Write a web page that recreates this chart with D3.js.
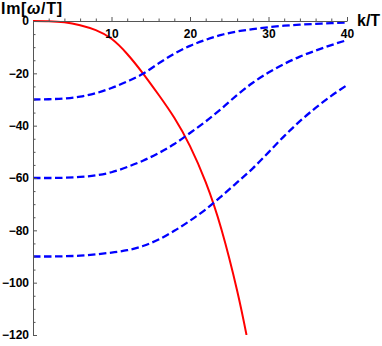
<!DOCTYPE html>
<html>
<head>
<meta charset="utf-8">
<script src="https://cdn.jsdelivr.net/npm/d3@7"></script>
<style>
  html, body { margin: 0; padding: 0; background: #fff; }
  svg { display: block; }
  text { font-family: "Liberation Sans", Arial, sans-serif; font-weight: bold; }
</style>
</head>
<body>
<svg id="chart" width="382" height="346"></svg>
<script>
// ---- data ----
const kRed   = [0, 2, 4, 6, 8, 10, 12, 14, 16, 18, 20, 22, 24, 26, 27.2];
const imRed  = [0, -0.1, -0.5, -1.6, -3.5, -6.8, -12.6, -20.0, -28.2, -37.0, -47.8, -61.6, -79.6, -103, -120];

const kBlue  = [0, 2, 4, 6, 8, 10, 12, 14, 16, 18, 20, 22, 24, 26, 28, 30, 32, 34, 36, 38, 40];
const imBlue1 = [-30, -29.9, -29.6, -28.9, -27.6, -25.6, -23.1, -20.2, -16.2, -12.5, -9.5, -7.2, -5.3, -4.0, -3.1, -2.4, -1.8, -1.4, -1.1, -0.8, -0.6];
const imBlue2 = [-60, -60, -59.9, -59.6, -59.0, -57.8, -55.8, -53.4, -50.5, -47, -42.8, -38.4, -33.5, -28.3, -23.6, -19.7, -16.4, -13.6, -11.3, -9.2, -7.3];
const imBlue3 = [-90, -90, -89.9, -89.7, -89.2, -88.5, -87.6, -86, -83.5, -80.2, -76.3, -72, -67, -61.7, -56.3, -50.2, -44, -38.3, -33.2, -28.6, -24.5];

const xMajor = [10, 20, 30, 40];
const xMinor = [2, 4, 6, 8, 12, 14, 16, 18, 22, 24, 26, 28, 32, 34, 36, 38];
const yMajor = [0, -20, -40, -60, -80, -100, -120];
const yMinor = [-5, -10, -15, -25, -30, -35, -45, -50, -55, -65, -70, -75, -85, -90, -95, -105, -110, -115];

// ---- layout ----
const svg = d3.select("#chart");
const x = d3.scaleLinear().domain([0, 40]).range([33, 347]);
const y = d3.scaleLinear().domain([0, -120]).range([21, 335]);
const axisColor = "#555";

svg.append("defs").append("clipPath").attr("id", "clip")
  .append("rect").attr("x", x(0)).attr("y", y(0) - 3)
  .attr("width", x(40) - x(0) + 3).attr("height", y(-120) - y(0) + 3);

const lineRed = d3.line().x(d => x(d[0])).y(d => y(d[1])).curve(d3.curveNatural);
const lineBlue = d3.line().x(d => x(d[0])).y(d => y(d[1])).curve(d3.curveMonotoneX);
const plot = svg.append("g").attr("clip-path", "url(#clip)");

plot.append("path")
  .attr("d", lineRed(d3.zip(kRed, imRed)))
  .attr("fill", "none").attr("stroke", "#ff0000").attr("stroke-width", 2);

[imBlue1, imBlue2, imBlue3].forEach(s => {
  plot.append("path")
    .attr("d", lineBlue(d3.zip(kBlue, s)))
    .attr("fill", "none").attr("stroke", "#0000ff")
    .attr("stroke-width", 2.3).attr("stroke-dasharray", "7.5,3.5");
});

// ---- axes ----
function styleAxis(g) {
  g.selectAll("path, line").attr("stroke", axisColor).attr("stroke-width", 1);
  g.selectAll("text").attr("fill", "#000").attr("font-size", 12)
    .attr("font-family", "Liberation Sans, Arial, sans-serif").attr("font-weight", "bold");
}

svg.append("g").attr("transform", `translate(0,${y(0)})`)
  .call(d3.axisBottom(x).tickValues(xMinor).tickSizeInner(-2.5).tickSizeOuter(0).tickFormat(""))
  .call(g => g.select(".domain").remove())
  .call(styleAxis);
svg.append("g").attr("transform", `translate(0,${y(0)})`)
  .call(d3.axisBottom(x).tickValues(xMajor).tickSizeInner(-4).tickSizeOuter(0).tickPadding(8))
  .call(styleAxis);

svg.append("g").attr("transform", `translate(${x(0)},0)`)
  .call(d3.axisLeft(y).tickValues(yMinor).tickSizeInner(-2.5).tickSizeOuter(0).tickFormat(""))
  .call(g => g.select(".domain").remove())
  .call(styleAxis);
svg.append("g").attr("transform", `translate(${x(0)},0)`)
  .call(d3.axisLeft(y).tickValues(yMajor).tickSizeInner(-4).tickSizeOuter(0).tickPadding(4))
  .call(styleAxis);

// ---- axis labels ----
const yl = svg.append("text").attr("x", 1).attr("y", 13.5).attr("font-size", 16)
  .attr("textLength", 61).attr("lengthAdjust", "spacing");
yl.append("tspan").text("Im[");
yl.append("tspan").attr("font-style", "italic").text("ω");
yl.append("tspan").text("/T]");

svg.append("text").attr("x", 357).attr("y", 26).attr("font-size", 16).text("k/T");
</script>
</body>
</html>
